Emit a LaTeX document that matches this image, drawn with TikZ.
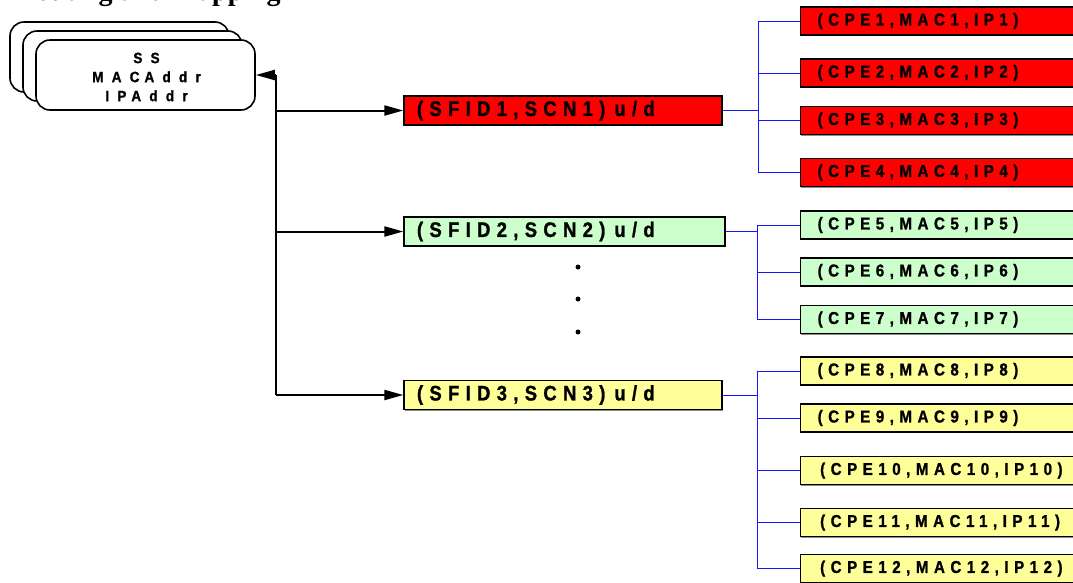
\documentclass[tikz,border=0pt]{standalone}
\usepackage{fontspec}
\setmainfont{Liberation Sans}
\newfontfamily\titlefont{Liberation Serif}
\newfontfamily\biglbl[LetterSpace=30,FakeStretch=0.88,BoldFeatures={FakeBold=1.2}]{Liberation Sans}
\newfontfamily\cpelbl[LetterSpace=32,FakeStretch=0.88,BoldFeatures={FakeBold=1.2}]{Liberation Sans}
\newfontfamily\sslbl[LetterSpace=55,FakeStretch=0.9,BoldFeatures={FakeBold=1.2}]{Liberation Sans}
\usetikzlibrary{arrows.meta,shadows}

\definecolor{sfred}{RGB}{255,0,0}
\definecolor{sfgreen}{RGB}{204,255,204}
\definecolor{sfyellow}{RGB}{255,255,153}
\definecolor{treeblue}{RGB}{20,20,255}

\begin{document}
\begin{tikzpicture}[x=1pt,y=-1pt,
  ssbox/.style={draw, fill=white, line width=1.6pt, rounded corners=14pt,
    minimum width=219pt, minimum height=70pt, inner sep=0pt},
  sfbox/.style={draw=black, line width=1.3pt, minimum height=29pt,
    inner ysep=0pt, inner xsep=13pt, text width=#1, align=left,
    font=\biglbl\bfseries\fontsize{21}{24}\selectfont,
    drop shadow={shadow xshift=0.8pt, shadow yshift=-1.2pt, fill=black!45, opacity=1}},
  cpebox/.style={draw=black, line width=1.3pt, minimum height=28pt,
    inner ysep=0pt, inner xsep=17pt, text width=250pt, align=left, anchor=west,
    font=\cpelbl\bfseries\fontsize{17.2}{20}\selectfont,
    drop shadow={shadow xshift=0.8pt, shadow yshift=-1.2pt, fill=black!45, opacity=1}},
  bus/.style={line width=2pt},
  arr/.style={line width=2pt, -{Triangle[length=19pt,width=10pt]}},
  tree/.style={draw=treeblue, line width=1pt},
  vdot/.style={fill=black}]

\useasboundingbox (0,0) rectangle (1073,582);
\clip (0,0) rectangle (1073,582);

% heading, mostly above the page edge
\node[anchor=base west, inner sep=0pt,
  font=\titlefont\bfseries\fontsize{28}{30}\selectfont] (title) at (16,0) {Routing and Mapping};

% stacked subscriber station cards
\node[ssbox] (ssback) at (119.5,57) {};
\node[ssbox] (ssmid) at (132.5,66) {};
\node[ssbox] (ss) at (145.5,75) {};
\node[align=center, inner sep=0pt, font=\sslbl\bfseries\fontsize{15}{19}\selectfont]
  (sstext) at (146.5,77) {SS\\\mbox{MAC}\kern5pt\mbox{Addr}\\\mbox{IP}\kern5pt\mbox{Addr}};

% service flow boxes
\node[sfbox=292pt, fill=sfred] (sf1) at (563,110.5) {(SFID1,SCN1)\hspace{9pt}u/d};
\node[sfbox=295pt, fill=sfgreen] (sf2) at (564.5,231.5) {(SFID2,SCN2)\hspace{9pt}u/d};
\node[sfbox=292pt, fill=sfyellow] (sf3) at (563,395) {(SFID3,SCN3)\hspace{9pt}u/d};

% vertical ellipsis between flows
\fill[vdot] (578,267) circle (2.5);
\fill[vdot] (578,299) circle (2.5);
\fill[vdot] (578,332) circle (2.5);

% CPE boxes
\node[cpebox, fill=sfred] (cpe1) at (800,21) {(CPE1,MAC1,IP1)};
\node[cpebox, fill=sfred] (cpe2) at (800,73) {(CPE2,MAC2,IP2)};
\node[cpebox, fill=sfred] (cpe3) at (800,120.5) {(CPE3,MAC3,IP3)};
\node[cpebox, fill=sfred] (cpe4) at (800,172.5) {(CPE4,MAC4,IP4)};
\node[cpebox, fill=sfgreen] (cpe5) at (800,225) {(CPE5,MAC5,IP5)};
\node[cpebox, fill=sfgreen] (cpe6) at (800,272) {(CPE6,MAC6,IP6)};
\node[cpebox, fill=sfgreen] (cpe7) at (800,319.5) {(CPE7,MAC7,IP7)};
\node[cpebox, fill=sfyellow] (cpe8) at (800,371) {(CPE8,MAC8,IP8)};
\node[cpebox, fill=sfyellow] (cpe9) at (800,418) {(CPE9,MAC9,IP9)};
\node[cpebox, fill=sfyellow] (cpe10) at (800,470.5) {\hspace*{2.5pt}(CPE10,MAC10,IP10)};
\node[cpebox, fill=sfyellow] (cpe11) at (800,522.5) {\hspace*{2.5pt}(CPE11,MAC11,IP11)};
\node[cpebox, fill=sfyellow] (cpe12) at (800,568.5) {\hspace*{2.5pt}(CPE12,MAC12,IP12)};

% black distribution bus from the SS to each flow
\coordinate (bustop) at (276,75);
\coordinate (busbot) at (276,395);
\draw[bus] (bustop) -- (busbot);
\draw[arr] (bustop) -- (ss.east |- bustop);
\draw[arr] (bustop |- sf1.west) -- (sf1.west);
\draw[arr] (bustop |- sf2.west) -- (sf2.west);
\draw[arr] (busbot) -- (sf3.west);

% blue fan-out trees from each flow to its CPEs
\coordinate (j1) at (758,0);
\coordinate (j2) at (757,0);
\coordinate (j3) at (757.5,0);

\draw[tree] (sf1.east) -- (sf1.east -| j1);
\draw[tree] (j1 |- cpe1.west) -- (j1 |- cpe4.west);
\foreach \n in {1,2,3,4} \draw[tree] (j1 |- cpe\n.west) -- (cpe\n.west);

\draw[tree] (sf2.east) -- (sf2.east -| j2);
\draw[tree] (j2 |- cpe5.west) -- (j2 |- cpe7.west);
\foreach \n in {5,6,7} \draw[tree] (j2 |- cpe\n.west) -- (cpe\n.west);

\draw[tree] (sf3.east) -- (sf3.east -| j3);
\draw[tree] (j3 |- cpe8.west) -- (j3 |- cpe12.west);
\foreach \n in {8,9,10,11,12} \draw[tree] (j3 |- cpe\n.west) -- (cpe\n.west);

\end{tikzpicture}
\end{document}
